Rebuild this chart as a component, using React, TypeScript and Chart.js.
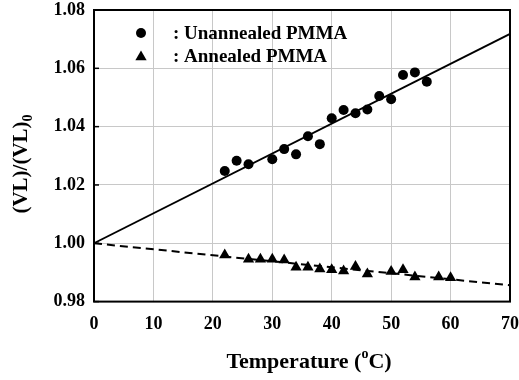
import React, { useEffect, useRef } from "react";
import { Chart, registerables } from "chart.js";

Chart.register(...registerables);

const unannealedT = [22, 24, 26, 30, 32, 34, 36, 38, 40, 42, 44, 46, 48, 50, 52, 54, 56];
const unannealedV = [1.0248, 1.0283, 1.0271, 1.0288, 1.0323, 1.0305, 1.0367, 1.034, 1.0429, 1.0457, 1.0446, 1.0459, 1.0505, 1.0494, 1.0577, 1.0586, 1.0554];

const annealedT = [22, 26, 28, 30, 32, 34, 36, 38, 40, 42, 44, 46, 50, 52, 54, 58, 60];
const annealedV = [0.996, 0.9945, 0.9945, 0.9945, 0.9943, 0.9918, 0.9918, 0.9912, 0.9909, 0.9905, 0.992, 0.9895, 0.9903, 0.9909, 0.9884, 0.9884, 0.9882];

const fitT = [0, 70];
const unannealedFit = [1.0, 1.0718];
const annealedFit = [1.0, 0.9856];

const legendLabels = [": Unannealed PMMA", ": Annealed PMMA"];
const xTitle = "Temperature (";
const xTitleSup = "o";
const xTitleEnd = "C)";
const yTitle = "(VL)/(VL)";
const yTitleSub = "0";

const SERIF = "'Liberation Serif', 'Times New Roman', serif";

function pts(xs: number[], ys: number[]) {
  return xs.map((x, i) => ({ x, y: ys[i] }));
}

const decorPlugin = {
  id: "decor",
  afterDatasetsDraw(chart: any) {
    const { ctx, chartArea } = chart;
    const yScale = chart.scales.y;
    ctx.save();
    ctx.strokeStyle = "#000";
    ctx.lineWidth = 2;
    ctx.strokeRect(chartArea.left, chartArea.top, chartArea.right - chartArea.left, chartArea.bottom - chartArea.top);
    ctx.lineWidth = 1.5;
    yScale.ticks.forEach((t: any) => {
      const y = yScale.getPixelForValue(t.value);
      ctx.beginPath();
      ctx.moveTo(chartArea.left, y);
      ctx.lineTo(chartArea.left + 5, y);
      ctx.stroke();
    });
    // legend
    ctx.fillStyle = "#000";
    ctx.beginPath();
    ctx.arc(141, 33, 5, 0, Math.PI * 2);
    ctx.fill();
    const tx = 141, ty = 57, r = 6.5;
    ctx.beginPath();
    ctx.moveTo(tx, ty - r);
    ctx.lineTo(tx + r * Math.sin((2 * Math.PI) / 3), ty - r * Math.cos((2 * Math.PI) / 3));
    ctx.lineTo(tx + r * Math.sin((4 * Math.PI) / 3), ty - r * Math.cos((4 * Math.PI) / 3));
    ctx.closePath();
    ctx.fill();
    ctx.font = `bold 19px ${SERIF}`;
    ctx.textAlign = "left";
    ctx.textBaseline = "alphabetic";
    ctx.fillText(legendLabels[0], 173, 39);
    ctx.fillText(legendLabels[1], 173, 62);

    // x title
    ctx.font = `bold 22px ${SERIF}`;
    const w1 = ctx.measureText(xTitle).width;
    ctx.font = `bold 14px ${SERIF}`;
    const w2 = ctx.measureText(xTitleSup).width;
    ctx.font = `bold 22px ${SERIF}`;
    const w3 = ctx.measureText(xTitleEnd).width;
    const total = w1 + w2 + w3;
    const x0 = 309 - total / 2;
    const base = 368;
    ctx.fillText(xTitle, x0, base);
    ctx.font = `bold 14px ${SERIF}`;
    ctx.fillText(xTitleSup, x0 + w1, base - 10);
    ctx.font = `bold 22px ${SERIF}`;
    ctx.fillText(xTitleEnd, x0 + w1 + w2, base);

    // y title
    ctx.translate(27, 164);
    ctx.rotate(-Math.PI / 2);
    ctx.font = `bold 21px ${SERIF}`;
    const yw1 = ctx.measureText(yTitle).width;
    ctx.font = `bold 14px ${SERIF}`;
    const yw2 = ctx.measureText(yTitleSub).width;
    const yt = yw1 + yw2;
    ctx.font = `bold 21px ${SERIF}`;
    ctx.fillText(yTitle, -yt / 2, 0);
    ctx.font = `bold 14px ${SERIF}`;
    ctx.fillText(yTitleSub, -yt / 2 + yw1, 5);
    ctx.restore();
  },
};

export default function App() {
  const ref = useRef<HTMLCanvasElement | null>(null);
  useEffect(() => {
    if (!ref.current) return;
    const chart = new Chart(ref.current, {
      type: "scatter",
      data: {
        datasets: [
          {
            label: "Unannealed fit",
            data: pts(fitT, unannealedFit),
            showLine: true,
            borderColor: "#000",
            borderWidth: 1.8,
            pointRadius: 0,
            fill: false,
          },
          {
            label: "Annealed fit",
            data: pts(fitT, annealedFit),
            showLine: true,
            borderColor: "#000",
            borderWidth: 2,
            borderDash: [8, 5],
            pointRadius: 0,
            fill: false,
          },
          {
            label: "Unannealed PMMA",
            data: pts(unannealedT, unannealedV),
            pointStyle: "circle",
            pointRadius: 5,
            backgroundColor: "#000",
            borderColor: "#000",
            borderWidth: 0,
          },
          {
            label: "Annealed PMMA",
            data: pts(annealedT, annealedV),
            pointStyle: "triangle",
            pointRadius: 6.5,
            backgroundColor: "#000",
            borderColor: "#000",
            borderWidth: 0,
          },
        ],
      },
      options: {
        animation: false,
        responsive: false,
        maintainAspectRatio: false,
        layout: { padding: { left: 0, right: 9, top: 10, bottom: 0 } },
        plugins: { legend: { display: false }, tooltip: { enabled: false } },
        scales: {
          x: {
            type: "linear",
            min: 0,
            max: 70,
            ticks: {
              stepSize: 10,
              padding: 12,
              color: "#000",
              font: { family: SERIF, size: 18, weight: "bold" },
              maxRotation: 0,
            },
            grid: { color: "#c8c8c8", lineWidth: 1, drawTicks: false },
            border: { display: false },
            afterFit: (s: any) => {
              s.height = 78.4;
              s.paddingLeft = 0;
              s.paddingRight = 0;
            },
          },
          y: {
            min: 0.98,
            max: 1.08,
            ticks: {
              stepSize: 0.02,
              padding: 9,
              color: "#000",
              font: { family: SERIF, size: 18, weight: "bold" },
              callback: (v: any) => Number(v).toFixed(2),
            },
            grid: { color: "#c8c8c8", lineWidth: 1, drawTicks: false },
            border: { display: false },
            afterFit: (s: any) => {
              s.width = 94;
              s.paddingTop = 0;
              s.paddingBottom = 0;
            },
          },
        },
      },
      plugins: [decorPlugin],
    });
    return () => chart.destroy();
  }, []);
  return (
    <div style={{ position: "fixed", left: 0, top: 0, width: 519, height: 380, background: "#fff" }}>
      <canvas ref={ref} width={519} height={380} style={{ width: 519, height: 380, display: "block" }} />
    </div>
  );
}
